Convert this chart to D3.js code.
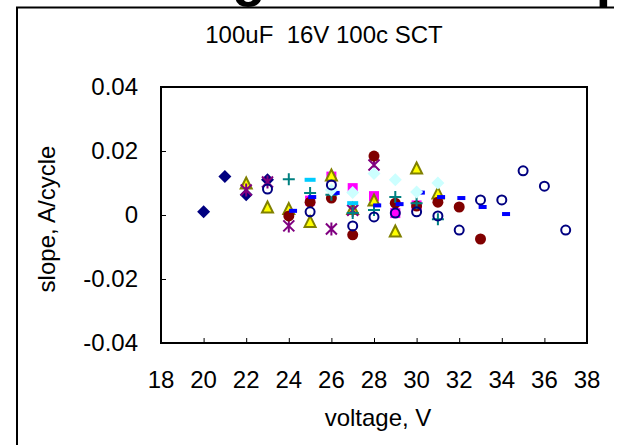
<!DOCTYPE html>
<html>
<head>
<meta charset="utf-8">
<script src="https://cdn.jsdelivr.net/npm/d3@7"></script>
<style>
  html, body { margin: 0; background: #fff; overflow: hidden; }
  svg { display: block; }
  text { font-family: "Liberation Sans", Arial, sans-serif; fill: #000; }
</style>
</head>
<body>
<div class="chart"></div>
<script>
// series: [voltage, slope]
var navyDiamond = [[20, 0.001], [21, 0.012], [22, 0.0063], [23, 0.011]];
var magentaSquare = [[25, 0.0045], [26, 0.012], [27, 0.0084], [28, 0.0059], [29, 0.0006], [30, 0.003]];
var yellowTriangle = [[22, 0.01], [23, 0.0025], [24, 0.002], [25, -0.002], [26, 0.0125], [27, 0.002],
  [28, 0.0047], [29, -0.005], [30, 0.0147], [31, 0.0069]];
var purpleStar = [[22, 0.0078], [23, 0.0103], [24, -0.0034], [26, -0.0044], [27, 0.0015], [28, 0.0156]];
var maroonCircle = [[24, -0.0003], [25, 0.004], [26, 0.0053], [27, -0.0062], [28, 0.0184], [29, 0.0037],
  [30, 0.0028], [31, 0.004], [32, 0.0025], [33, -0.0075]];
var tealPlus = [[24, 0.0112], [25, 0.0069], [26, 0.0063], [27, 0.0006], [28, 0.0016], [29, 0.0056],
  [30, 0.0037], [31, -0.0013]];
var blueDash = [[24.2, 0.0013], [25.1, 0.0056], [26.2, 0.0069], [28.15, 0.003], [29.2, 0.0034], [30.2, 0.007],
  [31.15, 0.0056], [32.1, 0.0053], [33.1, 0.0025], [34.2, 0.0003]];
var skyDash = [[25, 0.011], [27, 0.0037]];
var cyanDiamond = [[26, 0.0078], [27, 0.007], [28, 0.013], [29, 0.011], [30, 0.0072], [31, 0.01]];
var navyCircle = [[23, 0.0081], [25, 0.001], [26, 0.0094], [27, -0.0034], [28, -0.0006], [29, 0.0006],
  [30, 0.001], [31, -0.0003], [32, -0.0047], [33, 0.0047], [34, 0.0047], [35, 0.0138], [36, 0.009], [37, -0.0047]];

var xTicks = [18, 20, 22, 24, 26, 28, 30, 32, 34, 36, 38];
var yTicks = [-0.04, -0.02, 0, 0.02, 0.04];

var titleText = "Leakage current slope";
var subtitleText = "100uF  16V 100c SCT";
var xLabel = "voltage, V";
var yLabel = "slope, A/cycle";

var svgWidth = 619;
var svgHeight = 445;

var plot = { left: 161, right: 587, top: 87, bottom: 343 };

var svg = d3.select(".chart")
  .append("svg")
  .attr("width", svgWidth)
  .attr("height", svgHeight);

var x = d3.scaleLinear().domain([18, 38]).range([plot.left, plot.right]);
var y = d3.scaleLinear().domain([-0.04, 0.04]).range([plot.bottom, plot.top]);

// chart title, mostly cut off above the picture
svg.append("text")
  .attr("x", 76)
  .attr("y", -5)
  .attr("font-size", 55)
  .attr("font-weight", "bold")
  .text(titleText);

// outer chart border (only top and left are in view)
svg.append("path")
  .attr("d", "M17,445V7.5H614")
  .attr("fill", "none")
  .attr("stroke", "#000")
  .attr("stroke-width", 2);

svg.append("text")
  .attr("x", 324)
  .attr("y", 43)
  .attr("text-anchor", "middle")
  .attr("font-size", 24)
  .style("white-space", "pre")
  .text(subtitleText);

// axes with ticks pointing inside
var bottomAxis = d3.axisBottom(x).tickValues(xTicks.slice(1, -1)).tickSizeInner(-5).tickSizeOuter(0).tickFormat("");
var leftAxis = d3.axisLeft(y).tickValues(yTicks.slice(1, -1)).tickSizeInner(-5).tickSizeOuter(0).tickFormat("");

svg.append("g")
  .attr("transform", `translate(0, ${plot.bottom})`)
  .call(bottomAxis)
  .call(g => g.select(".domain").remove())
  .selectAll("line").attr("stroke", "#000").attr("stroke-width", 1);

svg.append("g")
  .attr("transform", `translate(${plot.left}, 0)`)
  .call(leftAxis)
  .call(g => g.select(".domain").remove())
  .selectAll("line").attr("stroke", "#000").attr("stroke-width", 1);

// plot frame
svg.append("rect")
  .attr("x", plot.left)
  .attr("y", plot.top)
  .attr("width", plot.right - plot.left)
  .attr("height", plot.bottom - plot.top)
  .attr("fill", "none")
  .attr("stroke", "#000")
  .attr("stroke-width", 2);

// tick labels (plain hyphen for negatives, as in the original)
svg.append("g").selectAll("text")
  .data(xTicks)
  .enter()
  .append("text")
  .attr("x", d => x(d))
  .attr("y", 388)
  .attr("text-anchor", "middle")
  .attr("font-size", 24)
  .text(d => d);

svg.append("g").selectAll("text")
  .data(yTicks)
  .enter()
  .append("text")
  .attr("x", 138)
  .attr("y", d => y(d))
  .attr("dy", "0.35em")
  .attr("text-anchor", "end")
  .attr("font-size", 24)
  .text(d => String(+d.toFixed(2)));

svg.append("text")
  .attr("x", 378)
  .attr("y", 426)
  .attr("text-anchor", "middle")
  .attr("font-size", 24)
  .text(xLabel);

svg.append("text")
  .attr("transform", "translate(55, 219) rotate(-90)")
  .attr("text-anchor", "middle")
  .attr("font-size", 24)
  .text(yLabel);

// marker drawing
var markers = svg.append("g");

function drawSeries(data, shape, fill, stroke, width) {
  var g = markers.append("g");
  data.forEach(function(d) {
    var cx = x(d[0]), cy = y(d[1]);
    var m;
    if (shape === "diamond") {
      m = g.append("path").attr("d", `M${cx},${cy - width / 2}L${cx + width / 2},${cy}L${cx},${cy + width / 2}L${cx - width / 2},${cy}Z`);
    } else if (shape === "square") {
      m = g.append("rect").attr("x", cx - width / 2).attr("y", cy - width / 2).attr("width", width).attr("height", width);
    } else if (shape === "triangle") {
      m = g.append("path").attr("d", `M${cx},${cy - width / 2}L${cx + width / 2},${cy + width / 2}L${cx - width / 2},${cy + width / 2}Z`);
    } else if (shape === "circle") {
      m = g.append("circle").attr("cx", cx).attr("cy", cy).attr("r", width / 2);
    } else if (shape === "star") {
      var h = width / 2;
      m = g.append("path").attr("d", `M${cx - h},${cy - h}L${cx + h},${cy + h}M${cx + h},${cy - h}L${cx - h},${cy + h}M${cx},${cy - h - 1}V${cy + h + 1}`);
    } else if (shape === "plus") {
      var p = width / 2;
      m = g.append("path").attr("d", `M${cx - p},${cy}H${cx + p}M${cx},${cy - p}V${cy + p}`);
    } else if (shape === "dash") {
      m = g.append("rect").attr("x", cx - width / 2).attr("y", cy - 2).attr("width", width).attr("height", 4);
    }
    m.attr("fill", fill).attr("stroke", stroke).attr("stroke-width", stroke === "none" ? 0 : 2);
  });
}

drawSeries(navyDiamond, "diamond", "#000080", "none", 13);
drawSeries(magentaSquare, "square", "#FF00FF", "none", 10);
drawSeries(yellowTriangle, "triangle", "#FFFF00", "#808000", 11);
drawSeries(purpleStar, "star", "none", "#800080", 11);
drawSeries(maroonCircle, "circle", "#800000", "none", 11);
drawSeries(tealPlus, "plus", "none", "#008080", 12);
drawSeries(blueDash, "dash", "#0000FF", "none", 8);
drawSeries(skyDash, "dash", "#00CCFF", "none", 11);
drawSeries(cyanDiamond, "diamond", "#CCFFFF", "none", 13);
drawSeries(navyCircle, "circle", "none", "#000080", 9);
</script>
</body>
</html>
